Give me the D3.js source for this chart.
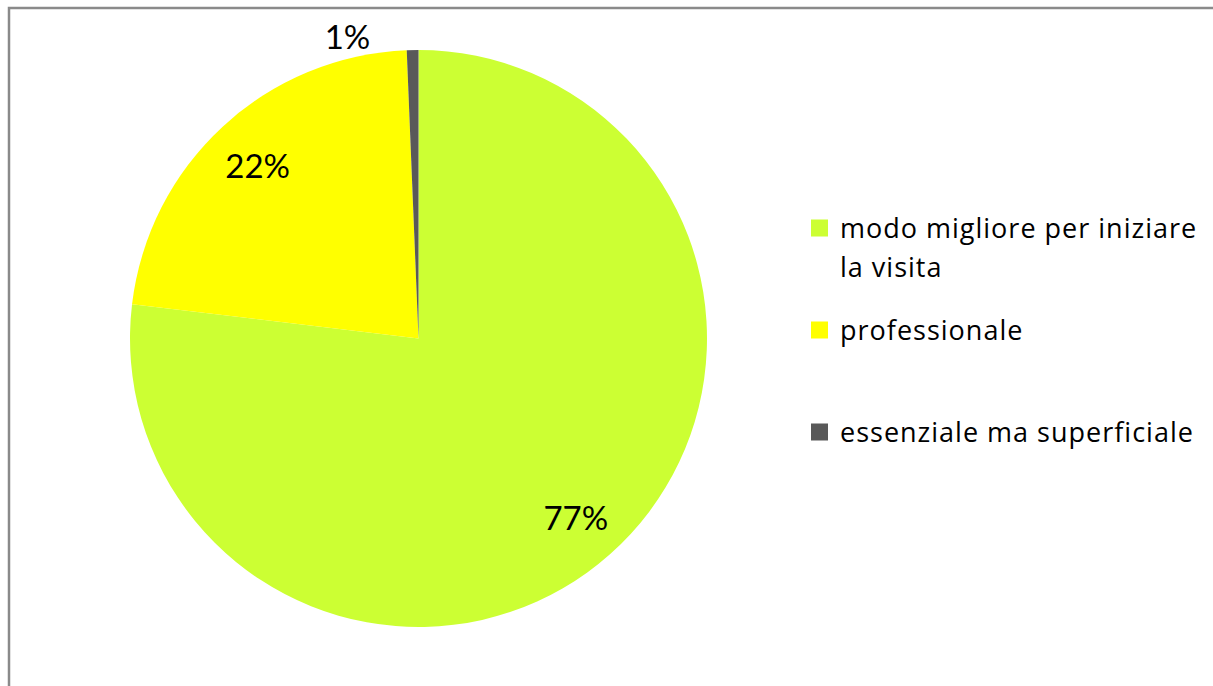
<!DOCTYPE html>
<html>
<head>
<meta charset="utf-8">
<script src="https://cdn.jsdelivr.net/npm/d3@7"></script>
<style>
  html, body { margin: 0; padding: 0; background: #fff; }
  svg { display: block; }
  text { font-family: Lato, "Open Sans", sans-serif; fill: #000; }
  text.legend { font-family: "Open Sans", Lato, sans-serif; letter-spacing: 1px; }
</style>
</head>
<body>
<svg id="chart" width="1213" height="686"></svg>
<script>
// Survey answers and their shares (percent)
const categories = ["modo migliore per iniziare la visita", "professionale", "essenziale ma superficiale"];
const legendLines = [["modo migliore per iniziare", "la visita"], ["professionale"], ["essenziale ma superficiale"]];
const values = [76.9, 22.45, 0.65];
const colors = ["#ccff33", "#ffff00", "#595959"];

const W = 1213, H = 686;
const svg = d3.select("#chart");

// chart frame (left and top edges visible)
svg.append("path")
  .attr("d", `M9,${H + 2} L9,8 L${W + 2},8`)
  .attr("fill", "none")
  .attr("stroke", "#8a8a8a")
  .attr("stroke-width", 2.5);

const cx = 418.5, cy = 338.5, r = 288.5;
const g = svg.append("g").attr("transform", `translate(${cx},${cy})`);

const data = categories.map((c, i) => ({ cat: c, value: values[i], color: colors[i] }));

const pie = d3.pie().value(d => d.value).sort(null).startAngle(0).endAngle(2 * Math.PI);
const arcs = pie(data);

const arc = d3.arc().innerRadius(0).outerRadius(r);
g.selectAll("path.slice")
  .data(arcs)
  .join("path")
  .attr("class", "slice")
  .attr("d", arc)
  .attr("fill", d => d.data.color);

// value labels: inside for large slices, outside for the tiny one
const inner = d3.arc().innerRadius(237).outerRadius(237);
const outer = d3.arc().innerRadius(r + 14).outerRadius(r + 14);
const fmt = v => Math.round(v) + "%";

g.selectAll("text.val")
  .data(arcs)
  .join("text")
  .attr("class", "val")
  .attr("font-size", 33)
  .attr("text-anchor", d => d.data.value < 3 ? "end" : "middle")
  .attr("dominant-baseline", "central")
  .attr("x", d => d.data.value < 3 ? outer.centroid(d)[0] - 42 : inner.centroid(d)[0])
  .attr("y", d => d.data.value < 3 ? outer.centroid(d)[1] : inner.centroid(d)[1] + 1)
  .text(d => fmt(d.data.value));

// legend
const legendY = [228, 330, 432];
const lg = svg.append("g");
data.forEach((d, i) => {
  lg.append("rect")
    .attr("x", 811).attr("y", legendY[i] - 8.5)
    .attr("width", 17).attr("height", 17)
    .attr("fill", d.color);
  const t = lg.append("text")
    .attr("class", "legend")
    .attr("x", 840).attr("y", legendY[i] + 10)
    .attr("font-size", 27);
  legendLines[i].forEach((line, j) => {
    t.append("tspan").attr("x", 840).attr("dy", j === 0 ? 0 : 39).text(line);
  });
});
</script>
</body>
</html>
